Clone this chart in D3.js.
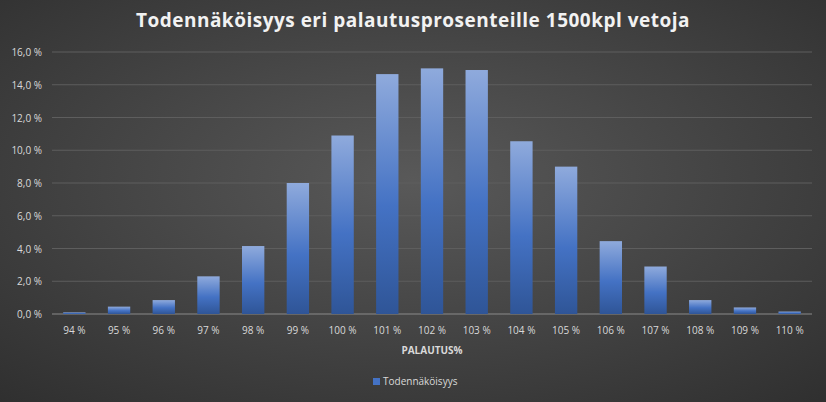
<!DOCTYPE html>
<html><head><meta charset="utf-8">
<script src="https://cdn.jsdelivr.net/npm/d3@7"></script>
<style>body{margin:0;background:#3a3a3a}</style>
</head><body><div id="chart"></div>
<script>
var categories = ["94 %","95 %","96 %","97 %","98 %","99 %","100 %","101 %","102 %","103 %","104 %","105 %","106 %","107 %","108 %","109 %","110 %"];
var values = [0.1,0.45,0.85,2.3,4.15,8.0,10.9,14.65,15.0,14.9,10.55,9.0,4.45,2.9,0.85,0.4,0.15];
var yTicks = [0,2,4,6,8,10,12,14,16];

var W = 826, H = 402;
var svg = d3.select("#chart").append("svg").attr("width",W).attr("height",H);
var defs = svg.append("defs");
var bg = defs.append("radialGradient").attr("id","bg").attr("cx","50%").attr("cy","45%").attr("r","75%");
bg.append("stop").attr("offset","0%").attr("stop-color","#595959");
bg.append("stop").attr("offset","100%").attr("stop-color","#2f2f2f");
var bar = defs.append("linearGradient").attr("id","bar").attr("x1",0).attr("y1",0).attr("x2",0).attr("y2",1);
bar.append("stop").attr("offset","0%").attr("stop-color","#8faadc");
bar.append("stop").attr("offset","55%").attr("stop-color","#4472c4");
bar.append("stop").attr("offset","100%").attr("stop-color","#2f5597");
svg.append("rect").attr("width",W).attr("height",H).attr("fill","url(#bg)");

var x = d3.scaleBand().domain(categories).range([52,812]).paddingInner(0.5).paddingOuter(0.25);
var y = d3.scaleLinear().domain([0,16]).range([314,52]);

svg.append("text").attr("x",W/2).attr("y",27).attr("text-anchor","middle")
  .attr("fill","#f2f2f2").style("font","bold 19px 'Open Sans',sans-serif").style("letter-spacing","0.5px")
  .text("Todennäköisyys eri palautusprosenteille 1500kpl vetoja");

svg.selectAll(".grid").data(yTicks).enter().append("line")
  .attr("x1",52).attr("x2",812).attr("y1",d=>y(d)).attr("y2",d=>y(d))
  .attr("stroke",d=>d===0?"#8a8a8a":"#5e5e5e").attr("stroke-width",1);
svg.selectAll(".yl").data(yTicks).enter().append("text")
  .attr("x",42).attr("y",d=>y(d)+4).attr("text-anchor","end").attr("fill","#d9d9d9")
  .style("font","10px 'Open Sans',sans-serif").text(d=>d.toFixed(1).replace(".",",")+" %");

svg.selectAll(".bar").data(values).enter().append("rect")
  .attr("x",(d,i)=>x(categories[i])).attr("width",x.bandwidth())
  .attr("y",d=>y(d)).attr("height",d=>y(0)-y(d)).attr("fill","url(#bar)");

svg.selectAll(".xl").data(categories).enter().append("text")
  .attr("x",d=>x(d)+x.bandwidth()/2).attr("y",334).attr("text-anchor","middle")
  .attr("fill","#d9d9d9").style("font","10px 'Open Sans',sans-serif").text(d=>d);

svg.append("text").attr("x",432).attr("y",354).attr("text-anchor","middle").attr("fill","#d9d9d9")
  .style("font","bold 10px 'Open Sans',sans-serif").text("PALAUTUS%");

svg.append("rect").attr("x",373).attr("y",378).attr("width",7).attr("height",7).attr("fill","#4472c4");
svg.append("text").attr("x",383).attr("y",385).attr("fill","#d9d9d9")
  .style("font","10px 'Open Sans',sans-serif").text("Todennäköisyys");
</script></body></html>
